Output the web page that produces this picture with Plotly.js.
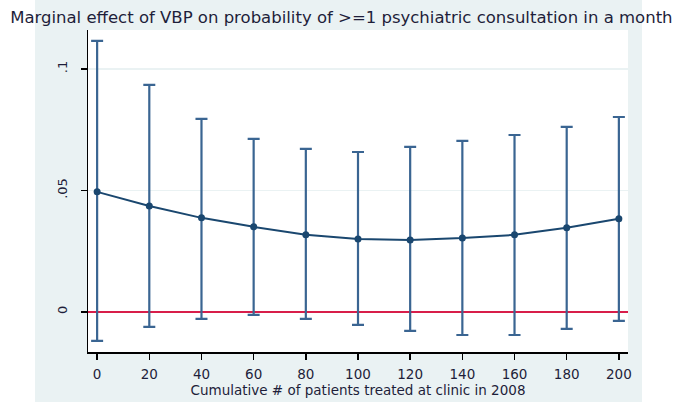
<!DOCTYPE html>
<html>
<head>
<meta charset="utf-8">
<script src="https://cdn.plot.ly/plotly-3.0.1.min.js"></script>
<style>html,body{margin:0;padding:0;background:#fff;}#chart{width:680px;height:402px;}</style>
</head>
<body>
<div id="chart"></div>
<script>
// Cumulative # of patients treated at clinic in 2008
const patients = [0, 20, 40, 60, 80, 100, 120, 140, 160, 180, 200];
// Marginal effect (point estimate)
const effect = [0.0494, 0.0436, 0.0387, 0.0350, 0.0317, 0.0300, 0.0296, 0.0304, 0.0317, 0.0346, 0.0383];
// Upper and lower confidence limits
const upper = [0.1115, 0.0934, 0.0794, 0.0712, 0.0671, 0.0658, 0.0679, 0.0704, 0.0728, 0.0761, 0.0802];
const lower = [-0.0119, -0.0062, -0.0029, -0.0012, -0.0029, -0.0053, -0.0078, -0.0095, -0.0095, -0.0070, -0.0037];
const yTickVals = [0, 0.05, 0.1];
const yTickText = ['0', '.05', '.1'];
const xTickVals = [0, 20, 40, 60, 80, 100, 120, 140, 160, 180, 200];

const errPlus = upper.map((u, i) => u - effect[i]);
const errMinus = lower.map((l, i) => effect[i] - l);

const trace = {
  x: patients,
  y: effect,
  type: 'scatter',
  mode: 'lines+markers',
  line: {color: '#1a476f', width: 2},
  marker: {color: '#1a476f', size: 7, symbol: 'circle'},
  error_y: {
    type: 'data',
    symmetric: false,
    array: errPlus,
    arrayminus: errMinus,
    color: '#3a6592',
    thickness: 2.2,
    width: 6
  },
  hoverinfo: 'x+y'
};

const font = 'DejaVu Sans, Arial, sans-serif';
const layout = {
  width: 680,
  height: 402,
  paper_bgcolor: '#eaf2f3',
  plot_bgcolor: '#ffffff',
  margin: {l: 88, r: 52, t: 30, b: 50},
  showlegend: false,
  title: {
    text: 'Marginal effect of VBP on probability of >=1 psychiatric consultation in a month',
    font: {family: font, size: 16.5, color: '#1e1e3a'},
    x: 0.502, xref: 'container', xanchor: 'center',
    y: 0.957, yref: 'container', yanchor: 'middle'
  },
  xaxis: {
    range: [-3.5, 203.5],
    tickvals: xTickVals,
    ticks: 'outside',
    ticklen: 6,
    tickwidth: 1.5,
    tickcolor: '#000',
    showline: true,
    linecolor: '#000',
    linewidth: 1.5,
    showgrid: false,
    zeroline: false,
    ticklabelstandoff: 3,
    tickfont: {family: font, size: 13.5, color: '#1e1e3a'},
    title: {text: 'Cumulative # of patients treated at clinic in 2008', font: {family: font, size: 13.5, color: '#1e1e3a'}, standoff: 0}
  },
  yaxis: {
    range: [-0.0165, 0.116],
    tickvals: yTickVals,
    ticktext: yTickText,
    tickangle: -90,
    ticks: 'outside',
    ticklen: 6,
    tickwidth: 1.5,
    tickcolor: '#000',
    showline: true,
    linecolor: '#000',
    linewidth: 1.5,
    showgrid: true,
    gridcolor: '#eaf2f3',
    gridwidth: 1.5,
    zeroline: true,
    zerolinecolor: '#d81e4a',
    zerolinewidth: 2,
    ticklabelstandoff: 8,
    tickfont: {family: font, size: 13, color: '#1e1e3a'}
  },
  shapes: [
    {type: 'rect', xref: 'paper', yref: 'paper', x0: -0.2, x1: -0.0981, y0: -0.2, y1: 1.2, fillcolor: '#ffffff', line: {width: 0}, layer: 'below'},
    {type: 'rect', xref: 'paper', yref: 'paper', x0: 1.0259, x1: 1.2, y0: -0.2, y1: 1.2, fillcolor: '#ffffff', line: {width: 0}, layer: 'below'}
  ]
};

Plotly.newPlot('chart', [trace], layout, {displayModeBar: false, staticPlot: true});
</script>
</body>
</html>
